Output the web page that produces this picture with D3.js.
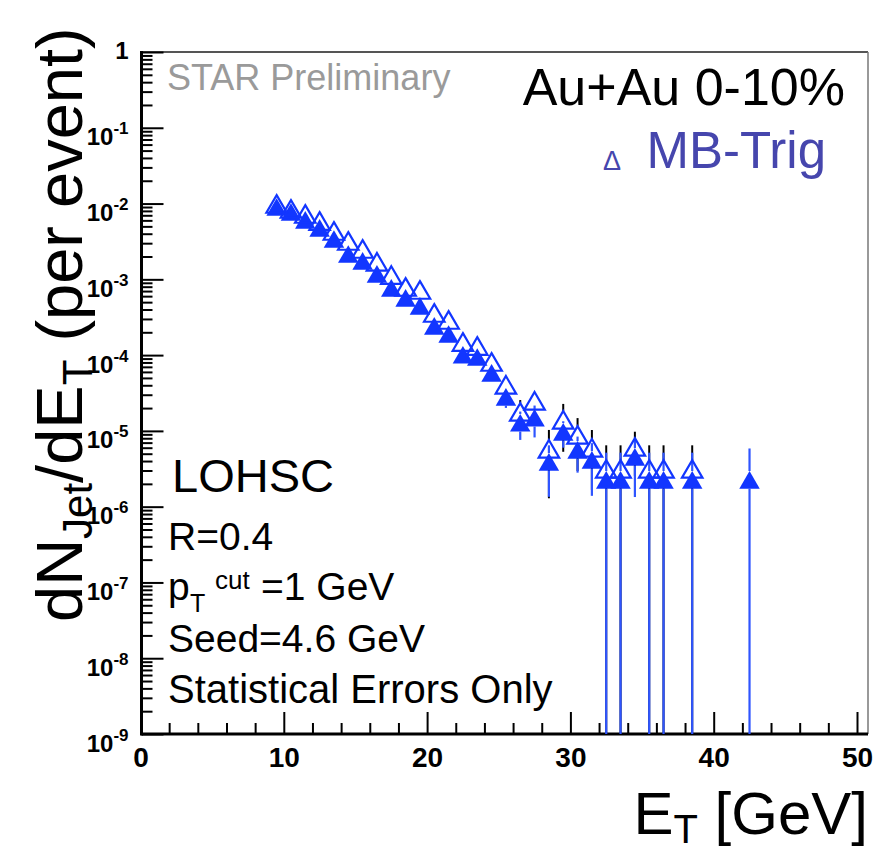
<!DOCTYPE html>
<html>
<head>
<meta charset="utf-8">
<script src="https://cdn.jsdelivr.net/npm/d3@7"></script>
<style>
  body { margin: 0; background: #fff; }
  svg { display: block; font-family: "Liberation Sans", Arial, Helvetica, sans-serif; }
  text { white-space: pre; }
</style>
</head>
<body>
<svg id="chart" width="873" height="851"></svg>
<script>
// jet E_T bin centres (GeV)
const etBins = [9.5, 10.5, 11.5, 12.5, 13.5, 14.5, 15.5, 16.5, 17.5, 18.5, 19.5, 20.5,
  21.5, 22.5, 23.5, 24.5, 25.5, 26.5, 27.5, 28.5, 29.5, 30.5, 31.5, 32.5, 33.5, 34.5,
  35.5, 36.5, 38.5, 42.5];

// filled triangles
const htVals = [9.0e-3, 7.75e-3, 6.08e-3, 4.77e-3, 3.41e-3, 2.16e-3, 1.75e-3, 1.18e-3, 7.7e-4, 5.69e-4,
  4.46e-4, 2.43e-4, 1.90e-4, 1.01e-4, 9.46e-5, 5.82e-5, 2.81e-5, 1.28e-5, 1.49e-5, 3.9e-6,
  9.7e-6, 5.61e-6, 4.14e-6, 2.26e-6, 2.26e-6, 4.54e-6, 2.26e-6, 2.26e-6, 2.26e-6, 2.26e-6];
const htErrs = [3e-4, 2.5e-4, 2e-4, 1.6e-4, 1.2e-4, 9e-5, 8e-5, 6e-5, 4.5e-5, 3.8e-5,
  3.3e-5, 2.3e-5, 2.0e-5, 1.4e-5, 1.4e-5, 1.1e-5, 8e-6, 5.2e-6, 6.7e-6, 2.55e-6,
  3.7e-6, 2.8e-6, 2.75e-6, 2.9e-6, 2.9e-6, 3.2e-6, 2.9e-6, 2.9e-6, 2.9e-6, 3.6e-6];

// open triangles, MB-Trig (no entry in the last bin)
const mbVals = [9.88e-3, 8.49e-3, 7.29e-3, 5.89e-3, 4.35e-3, 3.21e-3, 2.52e-3, 1.70e-3, 1.14e-3, 7.94e-4,
  7.24e-4, 3.60e-4, 2.91e-4, 1.49e-4, 1.32e-4, 8.13e-5, 4.05e-5, 1.78e-5, 2.49e-5, 5.79e-6,
  1.40e-5, 8.85e-6, 5.97e-6, 3.15e-6, 3.15e-6, 6.15e-6, 3.15e-6, 3.15e-6, 3.15e-6, null];
const mbErrs = [4e-4, 3.4e-4, 2.9e-4, 2.4e-4, 1.8e-4, 1.4e-4, 1.1e-4, 8e-5, 6e-5, 4.5e-5,
  4.3e-5, 2.6e-5, 2.3e-5, 1.5e-5, 1.4e-5, 1.0e-5, 6.5e-6, 7.7e-6, 5.5e-6, 4.5e-6,
  8.7e-6, 5.9e-6, 4.3e-6, 3.3e-6, 3.3e-6, 3.6e-6, 3.3e-6, 3.3e-6, 3.3e-6, null];

const xTicks = [0, 10, 20, 30, 40, 50];
const yPowers = [0, -1, -2, -3, -4, -5, -6, -7, -8, -9];

const svg = d3.select("#chart");
svg.append("rect").attr("width", 873).attr("height", 851).attr("fill", "#fff");

const fLeft = 141.5, fRight = 868, fTop = 52, fBottom = 734;
const x = d3.scaleLinear().domain([0, 50]).range([140.5, 857]);
const y = d3.scaleLog().domain([1e-9, 1]).range([fBottom, fTop]);

const blue = "#1236ff";
const errBlue = "#2f55ff";

// frame: thin top and right edges
svg.append("line").attr("x1", fLeft).attr("x2", fRight).attr("y1", fTop).attr("y2", fTop)
  .attr("stroke", "#555").attr("stroke-width", 2);
svg.append("line").attr("x1", fRight).attr("x2", fRight).attr("y1", fTop).attr("y2", fBottom)
  .attr("stroke", "#777").attr("stroke-width", 1.5);

// y axis, log, ticks inside
const minorY = [];
yPowers.slice(1).forEach(p => { for (let k = 2; k < 10; k++) minorY.push(k * Math.pow(10, p)); });

const gyMinor = svg.append("g").attr("transform", `translate(${fLeft},0)`)
  .call(d3.axisLeft(y).tickValues(minorY).tickSize(-11).tickFormat(""));
const gyMajor = svg.append("g").attr("transform", `translate(${fLeft},0)`)
  .call(d3.axisLeft(y).tickValues(yPowers.map(p => Math.pow(10, p))).tickSize(-22).tickFormat(""));

gyMajor.selectAll(".tick").each(function(d) {
  const p = Math.round(Math.log10(d));
  const t = d3.select(this).append("text")
    .attr("x", -13).attr("text-anchor", "end")
    .attr("fill", "#000").attr("font-weight", "bold").attr("font-size", 24);
  if (p === 0) {
    t.attr("y", 6).text("1");
  } else {
    t.attr("y", 17);
    t.append("tspan").text("10");
    t.append("tspan").attr("font-size", 17).attr("dy", -11).text(p);
  }
});

// x axis, ticks inside
const minorX = d3.range(0, 51, 2).filter(v => v % 10 !== 0);
const gxMinor = svg.append("g").attr("transform", `translate(0,${fBottom})`)
  .call(d3.axisBottom(x).tickValues(minorX).tickSize(-11).tickFormat(""));
const gxMajor = svg.append("g").attr("transform", `translate(0,${fBottom})`)
  .call(d3.axisBottom(x).tickValues(xTicks).tickSize(-22).tickPadding(13).tickFormat(d3.format("d")));
gxMajor.selectAll("text").attr("font-size", 28).attr("font-weight", "bold").attr("fill", "#000")
  .attr("font-family", "'Liberation Sans', Arial, sans-serif");

[gyMinor, gyMajor, gxMinor, gxMajor].forEach(g => {
  g.select(".domain").remove();
  g.selectAll(".tick line").attr("stroke", "#000").attr("stroke-width", 2);
});

// main axis lines
svg.append("line").attr("x1", fLeft).attr("x2", fLeft).attr("y1", fTop - 1).attr("y2", fBottom + 1.5)
  .attr("stroke", "#000").attr("stroke-width", 3);
svg.append("line").attr("x1", fLeft).attr("x2", fRight).attr("y1", fBottom).attr("y2", fBottom)
  .attr("stroke", "#000").attr("stroke-width", 3);

// data
const triUp = {
  draw(ctx, size) {
    const s = Math.sqrt(size);
    const w = s * 0.5, h = s * 0.43;
    ctx.moveTo(0, -h); ctx.lineTo(w, h); ctx.lineTo(-w, h); ctx.closePath();
  }
};
const markSize = 420;
const halfH = Math.sqrt(markSize) * 0.43;
const tri = d3.symbol().type(triUp).size(markSize);

const ht = etBins.map((e, i) => ({ e, v: htVals[i], err: htErrs[i] }));
const mb = etBins.map((e, i) => ({ e, v: mbVals[i], err: mbErrs[i] })).filter(d => d.v != null);
const lowY = d => (d.v - d.err > 1e-9 ? y(d.v - d.err) : fBottom);

// error bars are cut where the marker sits, like ROOT does
function errSegments(data) {
  const segs = [];
  data.forEach(d => {
    const cy = y(d.v), hi = y(d.v + d.err), lo = lowY(d);
    if (hi < cy - halfH) segs.push({ e: d.e, y1: hi, y2: cy - halfH });
    if (lo > cy + halfH) segs.push({ e: d.e, y1: cy + halfH, y2: lo });
  });
  return segs;
}

svg.append("g").selectAll("line").data(errSegments(mb)).join("line")
  .attr("x1", d => x(d.e)).attr("x2", d => x(d.e))
  .attr("y1", d => d.y1).attr("y2", d => d.y2)
  .attr("stroke", "#000").attr("stroke-width", 2);

svg.append("g").selectAll("line").data(errSegments(ht)).join("line")
  .attr("x1", d => x(d.e)).attr("x2", d => x(d.e))
  .attr("y1", d => d.y1).attr("y2", d => d.y2)
  .attr("stroke", errBlue).attr("stroke-width", 2.2);

svg.append("g").selectAll("path").data(ht).join("path")
  .attr("d", tri)
  .attr("transform", d => `translate(${x(d.e)},${y(d.v)})`)
  .attr("fill", blue);

svg.append("g").selectAll("path").data(mb).join("path")
  .attr("d", tri)
  .attr("transform", d => `translate(${x(d.e)},${y(d.v)})`)
  .attr("fill", "none").attr("stroke", blue).attr("stroke-width", 2.2);

// texts
svg.append("text").attr("x", 167).attr("y", 90).attr("font-size", 36).attr("fill", "#9a9a9a")
  .text("STAR Preliminary");
svg.append("text").attr("x", 845).attr("y", 105).attr("text-anchor", "end").attr("font-size", 52)
  .text("Au+Au 0-10%");
svg.append("text").attr("x", 603).attr("y", 170).attr("font-size", 27).attr("fill", "#4646ad")
  .text("\u0394");
svg.append("text").attr("x", 826).attr("y", 168).attr("text-anchor", "end").attr("font-size", 51)
  .attr("fill", "#4646ad").text("MB-Trig");

svg.append("text").attr("x", 172).attr("y", 492).attr("font-size", 47).text("LOHSC");
svg.append("text").attr("x", 168).attr("y", 550).attr("font-size", 39).text("R=0.4");
svg.append("text").attr("x", 168).attr("y", 600).attr("font-size", 39).text("p");
svg.append("text").attr("x", 190).attr("y", 612).attr("font-size", 25).text("T");
svg.append("text").attr("x", 215).attr("y", 589).attr("font-size", 26).text("cut");
svg.append("text").attr("x", 261).attr("y", 600).attr("font-size", 39).text("=1 GeV");
svg.append("text").attr("x", 168).attr("y", 652).attr("font-size", 39).text("Seed=4.6 GeV");
svg.append("text").attr("x", 168).attr("y", 703).attr("font-size", 40).text("Statistical Errors Only");

// axis titles
const yt = svg.append("text").attr("transform", "translate(82,622) rotate(-90)").attr("font-size", 65);
yt.append("tspan").text("dN");
yt.append("tspan").attr("font-size", 42).attr("dy", 10).text("Jet");
yt.append("tspan").attr("dy", -10).text("/dE");
yt.append("tspan").attr("font-size", 42).attr("dy", 10).text("T");
yt.append("tspan").attr("dy", -10).text(" (per event)");

const xt = svg.append("text").attr("x", 868).attr("y", 834).attr("text-anchor", "end").attr("font-size", 60);
xt.append("tspan").text("E");
xt.append("tspan").attr("font-size", 40).attr("dy", 9).text("T");
xt.append("tspan").attr("dy", -9).text(" [GeV]");
</script>
</body>
</html>
